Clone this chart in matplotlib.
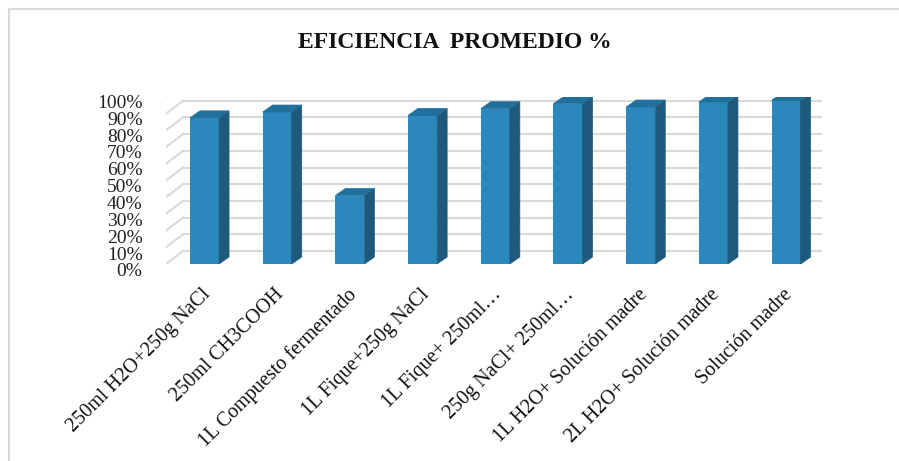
import numpy as np
import matplotlib
matplotlib.use('Agg')
import matplotlib.pyplot as plt
from matplotlib.transforms import offset_copy
from matplotlib.patches import Polygon, Rectangle

categorias = ['250ml H2O+250g NaCl', '250ml CH3COOH', '1L Compuesto fermentado',
              '1L Fique+250g NaCl', '1L Fique+ 250ml…', '250g NaCl+ 250ml…',
              '1L H2O+ Solución madre', '2L H2O+ Solución madre', 'Solución madre']
eficiencia = [87.5, 91, 41, 89, 93, 96, 94, 97, 98]
ticks_y = [0, 10, 20, 30, 40, 50, 60, 70, 80, 90, 100]

plt.rcParams['font.family'] = ['Liberation Serif', 'DejaVu Serif']

W, H = 899, 461
fig = plt.figure(figsize=(W / 100, H / 100), dpi=100)

# plano frontal de las barras
paso = 72.7
x0 = -0.535
izq = 204.5 + x0 * paso
ax = fig.add_axes([izq / W, (H - 264) / H, (8.5 - x0) * paso / W, 167 / H])
ax.set_xlim(x0, 8.5)
ax.set_ylim(0, 100)
ax.axis('off')

frente = '#2a88bc'
lado = '#1f5a7d'
techo = '#216f9b'
gris = '#d9d9d9'

# pared del fondo y lineas inclinadas
fondo = offset_copy(ax.transData, fig, x=17.5, y=13, units='dots')
delante = offset_copy(ax.transData, fig, x=-5, y=-4, units='dots')
for t in ticks_y:
    ax.plot([x0, 8.5], [t, t], color=gris, lw=1.5, transform=fondo, zorder=1)
    p1 = delante.transform((x0, t))
    p2 = fondo.transform((x0, t))
    ax.plot([p1[0], p2[0]], [p1[1], p2[1]], color=gris, lw=1.5,
            transform=None, zorder=1)
    ax.text(x0, t * 1.01, f'{t}%', transform=offset_copy(ax.transData, fig, x=-23, y=-8, units='dots'),
            ha='right', va='center', fontsize=14, color='#222222')

# barras con profundidad
ancho = 0.4
dx, dy = 10, 7
xs = np.arange(len(eficiencia))
ax.bar(xs, eficiencia, width=ancho, color=frente, zorder=3)
for x, v in zip(xs, eficiencia):
    a = ax.transData.transform((x + ancho / 2, 0))
    b = ax.transData.transform((x + ancho / 2, v))
    c = ax.transData.transform((x - ancho / 2, v))
    side = [a, b, b + [dx, dy], a + [dx, dy]]
    top = [c, b, b + [dx, dy], c + [dx, dy]]
    ax.add_patch(Polygon(side, closed=True, facecolor=lado, edgecolor=lado, lw=0.5,
                         transform=None, zorder=3))
    ax.add_patch(Polygon(top, closed=True, facecolor=techo, edgecolor=techo, lw=0.5,
                         transform=None, zorder=3))

# etiquetas de categorias
etiq = offset_copy(ax.transData, fig, x=-3, y=-21, units='dots')
for x, nombre in zip(xs, categorias):
    ax.text(x, 0, nombre, transform=etiq, rotation=45, rotation_mode='anchor',
            ha='right', va='top', fontsize=14.5, color='#111111')

fig.text(455 / W, 1 - 43 / H, 'EFICIENCIA  PROMEDIO %', ha='center', va='center',
         fontsize=17, fontweight='bold', color='#111111')

# marco del grafico
fig.add_artist(Rectangle((8.5 / W, -0.1), 1.1, 1.1 - 9.5 / H, transform=fig.transFigure,
                         fill=False, edgecolor=gris, lw=1.5))

fig.savefig('out.png', dpi=100)
